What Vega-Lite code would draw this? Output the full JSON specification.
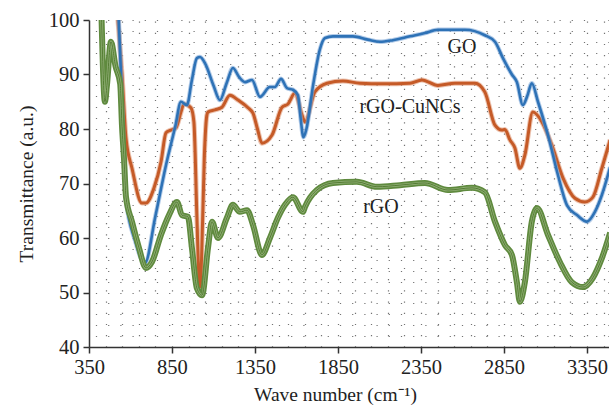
{
  "$schema": "https://vega.github.io/schema/vega-lite/v6.json",
  "width": 520,
  "height": 327,
  "autosize": {"type": "none"},
  "padding": {"left": 89, "top": 20, "right": 0, "bottom": 65},
  "config": {
    "view": {"stroke": null},
    "font": "Liberation Serif",
    "axis": {"labelFont": "Liberation Serif", "titleFont": "Liberation Serif", "labelColor": "#222", "titleColor": "#222", "titleFontWeight": "normal", "labelFontSize": 20.5, "titleFontSize": 19.5, "domainColor": "#333", "tickColor": "#333", "domainWidth": 1.5, "tickWidth": 1.5, "labelFlush": false}
  },
  "datasets": {
    "spectra": [
      {"s": "GO", "x": 528, "y": 101},
      {"s": "GO", "x": 549, "y": 85.3},
      {"s": "GO", "x": 573, "y": 67},
      {"s": "GO", "x": 627, "y": 59.6},
      {"s": "GO", "x": 687, "y": 55.4},
      {"s": "GO", "x": 750, "y": 64},
      {"s": "GO", "x": 814, "y": 73.4},
      {"s": "GO", "x": 870, "y": 80.5},
      {"s": "GO", "x": 904, "y": 85},
      {"s": "GO", "x": 940, "y": 84.4},
      {"s": "GO", "x": 970, "y": 89},
      {"s": "GO", "x": 1000, "y": 93},
      {"s": "GO", "x": 1019, "y": 93.2},
      {"s": "GO", "x": 1050, "y": 92},
      {"s": "GO", "x": 1100, "y": 88},
      {"s": "GO", "x": 1139, "y": 85.3},
      {"s": "GO", "x": 1180, "y": 88.5},
      {"s": "GO", "x": 1217, "y": 91.2},
      {"s": "GO", "x": 1255, "y": 89.5},
      {"s": "GO", "x": 1290, "y": 88.6},
      {"s": "GO", "x": 1332, "y": 89},
      {"s": "GO", "x": 1380, "y": 85.9},
      {"s": "GO", "x": 1440, "y": 87.7},
      {"s": "GO", "x": 1470, "y": 87.7},
      {"s": "GO", "x": 1507, "y": 89.2},
      {"s": "GO", "x": 1543, "y": 87.5},
      {"s": "GO", "x": 1579, "y": 87.2},
      {"s": "GO", "x": 1609, "y": 86.2},
      {"s": "GO", "x": 1625, "y": 82},
      {"s": "GO", "x": 1642, "y": 78.5},
      {"s": "GO", "x": 1660, "y": 80},
      {"s": "GO", "x": 1700, "y": 88},
      {"s": "GO", "x": 1740, "y": 94.5},
      {"s": "GO", "x": 1772, "y": 96.7},
      {"s": "GO", "x": 1820, "y": 97},
      {"s": "GO", "x": 1940, "y": 97},
      {"s": "GO", "x": 2030, "y": 96.4},
      {"s": "GO", "x": 2103, "y": 96},
      {"s": "GO", "x": 2181, "y": 96.3},
      {"s": "GO", "x": 2284, "y": 97},
      {"s": "GO", "x": 2374, "y": 97.6},
      {"s": "GO", "x": 2452, "y": 98.2},
      {"s": "GO", "x": 2615, "y": 98.2},
      {"s": "GO", "x": 2735, "y": 97.2},
      {"s": "GO", "x": 2796, "y": 96},
      {"s": "GO", "x": 2844, "y": 93},
      {"s": "GO", "x": 2898, "y": 90},
      {"s": "GO", "x": 2928, "y": 88.6},
      {"s": "GO", "x": 2964, "y": 84.4},
      {"s": "GO", "x": 2990, "y": 86},
      {"s": "GO", "x": 3018, "y": 88.4},
      {"s": "GO", "x": 3055, "y": 85},
      {"s": "GO", "x": 3115, "y": 78.9},
      {"s": "GO", "x": 3175, "y": 71.6},
      {"s": "GO", "x": 3230, "y": 66},
      {"s": "GO", "x": 3290, "y": 64.2},
      {"s": "GO", "x": 3350, "y": 63},
      {"s": "GO", "x": 3398, "y": 64.8},
      {"s": "GO", "x": 3440, "y": 67.9},
      {"s": "GO", "x": 3490, "y": 73},

      {"s": "rGO-CuNCs", "x": 522, "y": 101},
      {"s": "rGO-CuNCs", "x": 549, "y": 89.9},
      {"s": "rGO-CuNCs", "x": 573, "y": 78.3},
      {"s": "rGO-CuNCs", "x": 609, "y": 72.8},
      {"s": "rGO-CuNCs", "x": 669, "y": 66.4},
      {"s": "rGO-CuNCs", "x": 693, "y": 66.4},
      {"s": "rGO-CuNCs", "x": 742, "y": 69.2},
      {"s": "rGO-CuNCs", "x": 784, "y": 74},
      {"s": "rGO-CuNCs", "x": 814, "y": 79.3},
      {"s": "rGO-CuNCs", "x": 844, "y": 79.8},
      {"s": "rGO-CuNCs", "x": 874, "y": 80.2},
      {"s": "rGO-CuNCs", "x": 904, "y": 83.1},
      {"s": "rGO-CuNCs", "x": 922, "y": 84.6},
      {"s": "rGO-CuNCs", "x": 964, "y": 83.9},
      {"s": "rGO-CuNCs", "x": 982, "y": 81.3},
      {"s": "rGO-CuNCs", "x": 1000, "y": 64},
      {"s": "rGO-CuNCs", "x": 1012, "y": 53},
      {"s": "rGO-CuNCs", "x": 1019, "y": 51},
      {"s": "rGO-CuNCs", "x": 1028, "y": 56},
      {"s": "rGO-CuNCs", "x": 1045, "y": 75},
      {"s": "rGO-CuNCs", "x": 1060, "y": 82.5},
      {"s": "rGO-CuNCs", "x": 1067, "y": 83.1},
      {"s": "rGO-CuNCs", "x": 1109, "y": 83.5},
      {"s": "rGO-CuNCs", "x": 1151, "y": 84},
      {"s": "rGO-CuNCs", "x": 1199, "y": 86.2},
      {"s": "rGO-CuNCs", "x": 1248, "y": 85.3},
      {"s": "rGO-CuNCs", "x": 1308, "y": 83.9},
      {"s": "rGO-CuNCs", "x": 1338, "y": 82.9},
      {"s": "rGO-CuNCs", "x": 1365, "y": 80},
      {"s": "rGO-CuNCs", "x": 1392, "y": 77.4},
      {"s": "rGO-CuNCs", "x": 1453, "y": 78.9},
      {"s": "rGO-CuNCs", "x": 1513, "y": 84},
      {"s": "rGO-CuNCs", "x": 1549, "y": 84.6},
      {"s": "rGO-CuNCs", "x": 1591, "y": 86.6},
      {"s": "rGO-CuNCs", "x": 1633, "y": 82.6},
      {"s": "rGO-CuNCs", "x": 1651, "y": 81.3},
      {"s": "rGO-CuNCs", "x": 1711, "y": 86.8},
      {"s": "rGO-CuNCs", "x": 1784, "y": 88.4},
      {"s": "rGO-CuNCs", "x": 1880, "y": 88.8},
      {"s": "rGO-CuNCs", "x": 1982, "y": 88.4},
      {"s": "rGO-CuNCs", "x": 2121, "y": 88.3},
      {"s": "rGO-CuNCs", "x": 2284, "y": 88.4},
      {"s": "rGO-CuNCs", "x": 2356, "y": 89},
      {"s": "rGO-CuNCs", "x": 2452, "y": 88},
      {"s": "rGO-CuNCs", "x": 2555, "y": 88.4},
      {"s": "rGO-CuNCs", "x": 2675, "y": 88.4},
      {"s": "rGO-CuNCs", "x": 2735, "y": 86.8},
      {"s": "rGO-CuNCs", "x": 2796, "y": 80.7},
      {"s": "rGO-CuNCs", "x": 2838, "y": 79.8},
      {"s": "rGO-CuNCs", "x": 2856, "y": 79.9},
      {"s": "rGO-CuNCs", "x": 2886, "y": 78},
      {"s": "rGO-CuNCs", "x": 2916, "y": 76.5},
      {"s": "rGO-CuNCs", "x": 2946, "y": 72.8},
      {"s": "rGO-CuNCs", "x": 2976, "y": 75.2},
      {"s": "rGO-CuNCs", "x": 3024, "y": 83.1},
      {"s": "rGO-CuNCs", "x": 3079, "y": 81.3},
      {"s": "rGO-CuNCs", "x": 3139, "y": 77},
      {"s": "rGO-CuNCs", "x": 3206, "y": 71},
      {"s": "rGO-CuNCs", "x": 3278, "y": 67.3},
      {"s": "rGO-CuNCs", "x": 3338, "y": 66.6},
      {"s": "rGO-CuNCs", "x": 3386, "y": 67.5},
      {"s": "rGO-CuNCs", "x": 3440, "y": 72.8},
      {"s": "rGO-CuNCs", "x": 3490, "y": 78},

      {"s": "rGO", "x": 425, "y": 101},
      {"s": "rGO", "x": 446, "y": 85},
      {"s": "rGO", "x": 458, "y": 88},
      {"s": "rGO", "x": 482, "y": 96},
      {"s": "rGO", "x": 510, "y": 91.5},
      {"s": "rGO", "x": 538, "y": 88.3},
      {"s": "rGO", "x": 549, "y": 80.5},
      {"s": "rGO", "x": 561, "y": 74.5},
      {"s": "rGO", "x": 573, "y": 67.5},
      {"s": "rGO", "x": 609, "y": 63},
      {"s": "rGO", "x": 651, "y": 58.2},
      {"s": "rGO", "x": 693, "y": 54.5},
      {"s": "rGO", "x": 729, "y": 55.6},
      {"s": "rGO", "x": 784, "y": 60.6},
      {"s": "rGO", "x": 832, "y": 64.2},
      {"s": "rGO", "x": 880, "y": 66.6},
      {"s": "rGO", "x": 910, "y": 64.2},
      {"s": "rGO", "x": 946, "y": 63.9},
      {"s": "rGO", "x": 970, "y": 58.2},
      {"s": "rGO", "x": 1000, "y": 50.8},
      {"s": "rGO", "x": 1031, "y": 49.5},
      {"s": "rGO", "x": 1067, "y": 58.2},
      {"s": "rGO", "x": 1091, "y": 63},
      {"s": "rGO", "x": 1127, "y": 60},
      {"s": "rGO", "x": 1181, "y": 63.7},
      {"s": "rGO", "x": 1217, "y": 66.1},
      {"s": "rGO", "x": 1259, "y": 64.8},
      {"s": "rGO", "x": 1302, "y": 65.1},
      {"s": "rGO", "x": 1338, "y": 62.4},
      {"s": "rGO", "x": 1392, "y": 56.9},
      {"s": "rGO", "x": 1440, "y": 60},
      {"s": "rGO", "x": 1488, "y": 63.7},
      {"s": "rGO", "x": 1531, "y": 66.1},
      {"s": "rGO", "x": 1579, "y": 67.5},
      {"s": "rGO", "x": 1639, "y": 64.8},
      {"s": "rGO", "x": 1651, "y": 65.7},
      {"s": "rGO", "x": 1723, "y": 68.8},
      {"s": "rGO", "x": 1820, "y": 70.1},
      {"s": "rGO", "x": 1964, "y": 70.3},
      {"s": "rGO", "x": 2085, "y": 69.4},
      {"s": "rGO", "x": 2223, "y": 69.7},
      {"s": "rGO", "x": 2374, "y": 70.1},
      {"s": "rGO", "x": 2513, "y": 68.8},
      {"s": "rGO", "x": 2657, "y": 69.2},
      {"s": "rGO", "x": 2735, "y": 68.4},
      {"s": "rGO", "x": 2796, "y": 63},
      {"s": "rGO", "x": 2856, "y": 58.7},
      {"s": "rGO", "x": 2898, "y": 56.9},
      {"s": "rGO", "x": 2928, "y": 51.9},
      {"s": "rGO", "x": 2946, "y": 48.3},
      {"s": "rGO", "x": 2976, "y": 51.9},
      {"s": "rGO", "x": 3018, "y": 63},
      {"s": "rGO", "x": 3049, "y": 65.5},
      {"s": "rGO", "x": 3115, "y": 60.6},
      {"s": "rGO", "x": 3187, "y": 55.6},
      {"s": "rGO", "x": 3259, "y": 51.9},
      {"s": "rGO", "x": 3326, "y": 51},
      {"s": "rGO", "x": 3386, "y": 52.7},
      {"s": "rGO", "x": 3440, "y": 56.3},
      {"s": "rGO", "x": 3490, "y": 61}
    ],
    "labels": [
      {"t": "GO", "x": 2597, "y": 95.0},
      {"t": "rGO-CuNCs", "x": 2284, "y": 84.0},
      {"t": "rGO", "x": 2109, "y": 65.7}
    ]
  },
  "layer": [
    {
      "data": {"name": "spectra"},
      "mark": {"type": "point", "opacity": 0},
      "encoding": {
        "x": {"field": "x", "type": "quantitative", "scale": {"domain": [350, 3483], "nice": false, "zero": false},
          "axis": {"orient": "top", "values": [450,550,650,750,850,950,1050,1150,1250,1350,1450,1550,1650,1750,1850,1950,2050,2150,2250,2350,2450,2550,2650,2750,2850,2950,3050,3150,3250,3350,3450], "labels": false, "ticks": false, "domain": false, "title": null, "grid": true, "gridColor": "#444", "gridDash": [1.2, 10], "gridWidth": 1.2, "gridOpacity": 0.75}},
        "y": {"field": "y", "type": "quantitative", "scale": {"domain": [40, 100], "nice": false, "zero": false},
          "axis": {"orient": "right", "values": [42,44,46,48,50,52,54,56,58,60,62,64,66,68,70,72,74,76,78,80,82,84,86,88,90,92,94,96,98,100], "labels": false, "ticks": false, "domain": false, "title": null, "grid": true, "gridColor": "#444", "gridDash": [1.2, 11], "gridWidth": 1.2, "gridOpacity": 0.75}}
      }
    },
    {
      "data": {"name": "spectra"},
      "transform": [{"filter": "datum.s == 'rGO-CuNCs'"}],
      "layer": [
        {"mark": {"type": "line", "clip": true, "color": "#e09a78", "strokeWidth": 5, "opacity": 0.6, "interpolate": "monotone"}, "encoding": {}},
        {"mark": {"type": "line", "clip": true, "color": "#c55a27", "strokeWidth": 3, "interpolate": "monotone"}, "encoding": {}}
      ],
      "encoding": {
        "x": {"field": "x", "type": "quantitative", "axis": {"orient": "bottom", "values": [350, 850, 1350, 1850, 2350, 2850, 3350], "format": "d", "grid": false, "title": "Wave number (cm⁻¹)", "titleX": 246, "titlePadding": 8, "tickSize": 6, "labelPadding": 4}},
        "y": {"field": "y", "type": "quantitative", "axis": {"orient": "left", "values": [40, 50, 60, 70, 80, 90, 100], "format": "d", "grid": false, "title": "Transmittance (a.u.)", "tickSize": 6, "labelPadding": 4, "titlePadding": 12}}
      }
    },
    {
      "data": {"name": "spectra"},
      "transform": [{"filter": "datum.s == 'GO'"}],
      "layer": [
        {"mark": {"type": "line", "clip": true, "color": "#7fa9d8", "strokeWidth": 4.5, "opacity": 0.6, "interpolate": "monotone"}, "encoding": {}},
        {"mark": {"type": "line", "clip": true, "color": "#2e72b6", "strokeWidth": 2.6, "interpolate": "monotone"}, "encoding": {}}
      ],
      "encoding": {
        "x": {"field": "x", "type": "quantitative", "axis": null},
        "y": {"field": "y", "type": "quantitative", "axis": null}
      }
    },
    {
      "data": {"name": "spectra"},
      "transform": [{"filter": "datum.s == 'rGO'"}],
      "layer": [
        {"mark": {"type": "line", "clip": true, "color": "#5f8a3e", "strokeWidth": 6, "interpolate": "monotone"}, "encoding": {}},
        {"mark": {"type": "line", "clip": true, "color": "#8fae74", "strokeWidth": 2.6, "interpolate": "monotone"}, "encoding": {}},
        {"mark": {"type": "line", "clip": true, "color": "#557d34", "strokeWidth": 1, "interpolate": "monotone"}, "encoding": {}}
      ],
      "encoding": {
        "x": {"field": "x", "type": "quantitative", "axis": null},
        "y": {"field": "y", "type": "quantitative", "axis": null}
      }
    },
    {
      "data": {"name": "labels"},
      "mark": {"type": "text", "font": "Liberation Serif", "fontSize": 20, "color": "#222", "align": "center", "baseline": "middle"},
      "encoding": {
        "x": {"field": "x", "type": "quantitative", "axis": null},
        "y": {"field": "y", "type": "quantitative", "axis": null},
        "text": {"field": "t"}
      }
    }
  ],
  "resolve": {"axis": {"x": "independent", "y": "independent"}}
}
